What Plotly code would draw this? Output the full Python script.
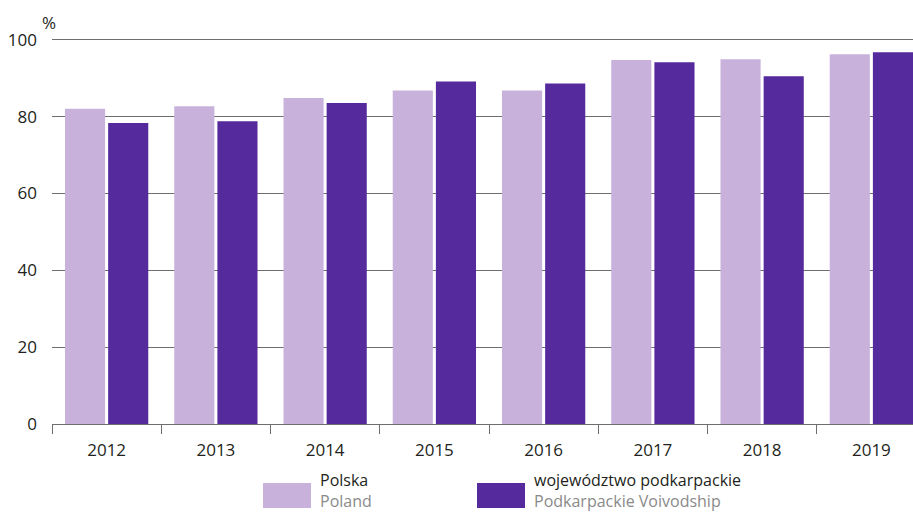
import plotly.graph_objects as go

# Years and shares (%) for Poland and the Podkarpackie Voivodship
years = ["2012", "2013", "2014", "2015", "2016", "2017", "2018", "2019"]
polska = [82.0, 82.7, 84.8, 86.8, 86.8, 94.7, 94.9, 96.2]
podkarpackie = [78.3, 78.8, 83.5, 89.1, 88.6, 94.1, 90.5, 96.7]

y_ticks = [0, 20, 40, 60, 80, 100]

light = "#c8b2dc"
dark = "#552a9c"
text_col = "#231f20"
grey_text = "#8a8a8a"
grid_col = "#6e6e6e"
FONT = "Open Sans"

W, H = 913, 515
L, R, T, B = 52, 0, 32, 91
pw, ph = W - L - R, H - T - B


def px_x(x):
    return (x - L) / pw


def px_y(y):
    return (H - B - y) / ph


fig = go.Figure()
fig.add_trace(go.Bar(x=years, y=polska, marker_color=light, marker_line_width=0,
                     name="Polska", showlegend=False))
fig.add_trace(go.Bar(x=years, y=podkarpackie, marker_color=dark, marker_line_width=0,
                     name="województwo podkarpackie", showlegend=False))

fig.update_layout(
    width=W, height=H,
    margin=dict(l=L, r=R, t=T, b=B, pad=0),
    paper_bgcolor="white", plot_bgcolor="white",
    barmode="group", bargap=0.21, bargroupgap=0.07,
    font=dict(family=FONT, size=17, color=text_col),
    xaxis=dict(
        type="category", range=[-0.5, 7.381],
        tickson="boundaries", ticks="outside", ticklen=9, tickwidth=1.3,
        tickcolor=grid_col, showline=True, linecolor=grid_col, linewidth=1.3,
        showgrid=False, ticklabelstandoff=10, tickfont=dict(size=17, color=text_col),
    ),
    yaxis=dict(
        range=[0, 102], tickvals=y_ticks, ticktext=[str(v) for v in y_ticks],
        showgrid=True, gridcolor=grid_col, gridwidth=1.2,
        zeroline=False, showline=False, ticks="",
        ticklabelstandoff=14, tickfont=dict(size=17, color=text_col),
    ),
)

# "%" unit label above the value axis
fig.add_annotation(text="%", xref="paper", yref="paper", x=px_x(40), y=px_y(9),
                   xanchor="left", yanchor="top", showarrow=False,
                   font=dict(size=17, color=text_col))

# Legend drawn below the axis: swatch + Polish name with English name beneath
legend_items = [
    (263, light, "Polska", "Poland"),
    (477, dark, "województwo podkarpackie", "Podkarpackie Voivodship"),
]
for x0, col, pl, en in legend_items:
    fig.add_shape(type="rect", xref="paper", yref="paper",
                  x0=px_x(x0), x1=px_x(x0 + 48), y0=px_y(508), y1=px_y(483),
                  fillcolor=col, line_width=0)
    fig.add_annotation(
        text=f"{pl}<br><span style='color:{grey_text}'>{en}</span>",
        xref="paper", yref="paper", x=px_x(x0 + 55), y=px_y(514),
        xanchor="left", yanchor="bottom", align="left", showarrow=False,
        font=dict(size=16, color=text_col))

fig.write_html("out.html")
